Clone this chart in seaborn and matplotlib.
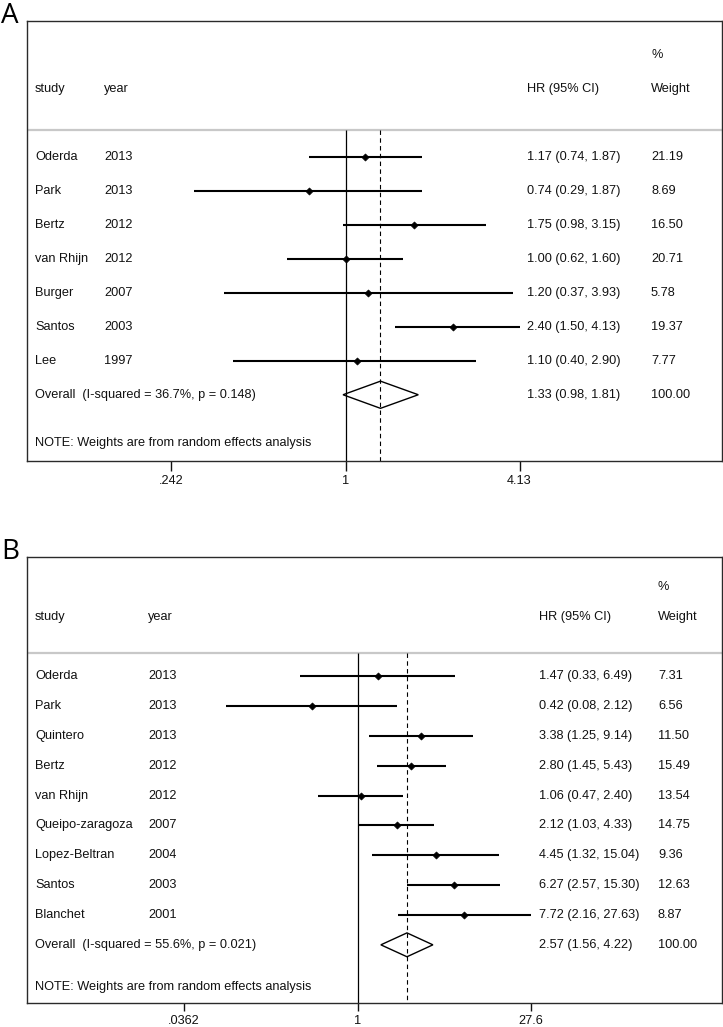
import numpy as np
import pandas as pd
import matplotlib
matplotlib.use("Agg")
import matplotlib.pyplot as plt
import seaborn as sns
from matplotlib.patches import Polygon
from matplotlib.transforms import blended_transform_factory
from matplotlib.ticker import NullLocator, FixedLocator, FixedFormatter

# ---------------- data: panel A ----------------
a_study = ["Oderda", "Park", "Bertz", "van Rhijn", "Burger", "Santos", "Lee"]
a_year = ["2013", "2013", "2012", "2012", "2007", "2003", "1997"]
a_hr = [1.17, 0.74, 1.75, 1.00, 1.20, 2.40, 1.10]
a_lo = [0.74, 0.29, 0.98, 0.62, 0.37, 1.50, 0.40]
a_hi = [1.87, 1.87, 3.15, 1.60, 3.93, 4.13, 2.90]
a_wt = [21.19, 8.69, 16.50, 20.71, 5.78, 19.37, 7.77]
a_overall = [1.33, 0.98, 1.81]
a_i2 = "36.7%"
a_p = "0.148"
a_ticks = [0.242, 1, 4.13]
a_ticklabels = [".242", "1", "4.13"]

# ---------------- data: panel B ----------------
b_study = ["Oderda", "Park", "Quintero", "Bertz", "van Rhijn", "Queipo-zaragoza",
           "Lopez-Beltran", "Santos", "Blanchet"]
b_year = ["2013", "2013", "2013", "2012", "2012", "2007", "2004", "2003", "2001"]
b_hr = [1.47, 0.42, 3.38, 2.80, 1.06, 2.12, 4.45, 6.27, 7.72]
b_lo = [0.33, 0.08, 1.25, 1.45, 0.47, 1.03, 1.32, 2.57, 2.16]
b_hi = [6.49, 2.12, 9.14, 5.43, 2.40, 4.33, 15.04, 15.30, 27.63]
b_wt = [7.31, 6.56, 11.50, 15.49, 13.54, 14.75, 9.36, 12.63, 8.87]
b_overall = [2.57, 1.56, 4.22]
b_i2 = "55.6%"
b_p = "0.021"
b_ticks = [0.0362, 1, 27.6]
b_ticklabels = [".0362", "1", "27.6"]

sns.set_theme(style="white")
plt.rcParams['font.family'] = ['Liberation Sans', 'DejaVu Sans']

W, H = 723, 1027
fig = plt.figure(figsize=(W / 100, H / 100), dpi=100)
FS = 9.2
BOX_L, BOX_R = 27, 722


def panel(letter, letter_base, top_px, bottom_px, x1_px, px_per_ln, year_px, hr_px, wt_px,
          tick_len, tick_pad,
          study, year, hr, lo, hi, wt, overall, i2, p, ticks, ticklabels):
    n = len(study)
    y_top, y_bot = -4.0, n + 1.95
    ax = fig.add_axes([BOX_L / W, 1 - bottom_px / H, (BOX_R - BOX_L) / W,
                       (bottom_px - top_px) / H])
    ax.set_xscale('log')
    ax.set_xlim(np.exp((BOX_L - x1_px) / px_per_ln), np.exp((BOX_R - x1_px) / px_per_ln))
    ax.set_ylim(y_bot, y_top)

    df = pd.DataFrame({"study": study, "year": year, "hr": hr, "lo": lo, "hi": hi,
                       "wt": wt, "row": np.arange(n)})

    sep = -0.78
    ax.axhline(sep, color="#c8c8c8", lw=1.6, zorder=1)
    ax.vlines(1, sep, y_bot, color="black", lw=0.9, zorder=2)
    ax.vlines(overall[0], sep, y_bot, color="black", lw=0.8,
              linestyles=(0, (4, 3)), zorder=2)

    ax.hlines(df["row"], df["lo"], df["hi"], color="black", lw=1.5, zorder=3)
    sns.scatterplot(data=df, x="hr", y="row", marker="D", s=13, color="black",
                    edgecolor="black", linewidth=0.5, ax=ax, legend=False, zorder=4)

    ov, ol, oh = overall
    dia = Polygon([(ol, n), (ov, n - 0.4), (oh, n), (ov, n + 0.4)], closed=True,
                  fill=False, edgecolor="black", lw=1.0, zorder=4)
    ax.add_patch(dia)

    tr = blended_transform_factory(ax.transAxes, ax.transData)

    def fx(px):
        return (px - BOX_L) / (BOX_R - BOX_L)

    kw = dict(transform=tr, fontsize=FS, va="center", ha="left", color="#111111")
    ax.text(fx(wt_px), -3, "%", **kw)
    ax.text(fx(35), -2, "study", **kw)
    ax.text(fx(year_px), -2, "year", **kw)
    ax.text(fx(hr_px), -2, "HR (95% CI)", **kw)
    ax.text(fx(wt_px), -2, "Weight", **kw)
    for _, r in df.iterrows():
        ax.text(fx(35), r["row"], r["study"], **kw)
        ax.text(fx(year_px), r["row"], r["year"], **kw)
        ax.text(fx(hr_px), r["row"], f"{r['hr']:.2f} ({r['lo']:.2f}, {r['hi']:.2f})", **kw)
        ax.text(fx(wt_px), r["row"], f"{r['wt']:.2f}", **kw)
    ax.text(fx(35), n, f"Overall  (I-squared = {i2}, p = {p})", **kw)
    ax.text(fx(hr_px), n, f"{ov:.2f} ({ol:.2f}, {oh:.2f})", **kw)
    ax.text(fx(wt_px), n, "100.00", **kw)
    ax.text(fx(35), n + 1.43, "NOTE: Weights are from random effects analysis", **kw)

    ax.xaxis.set_major_locator(FixedLocator(ticks))
    ax.xaxis.set_major_formatter(FixedFormatter(ticklabels))
    ax.xaxis.set_minor_locator(NullLocator())
    ax.set_yticks([])
    ax.tick_params(axis="x", bottom=True, direction="out", length=tick_len, width=1.0,
                   pad=tick_pad, labelsize=FS, colors="#111111")
    ax.set_xlabel("")
    ax.set_ylabel("")
    for s in ax.spines.values():
        s.set_visible(True)
        s.set_color("#2a2a2a")
        s.set_linewidth(1.0)

    fig.text(1 / W, 1 - letter_base / H, letter, fontsize=20, va="baseline", ha="left",
             family=["Open Sans", "DejaVu Sans"], color="black")


panel("A", 23, 21, 461, 345.5, 122.7, 104, 527, 651, 7, 3.0,
      a_study, a_year, a_hr, a_lo, a_hi, a_wt, a_overall, a_i2, a_p,
      a_ticks, a_ticklabels)
panel("B", 559, 557, 1003, 357.6, 52.3, 148, 539, 658, 6, 2.5,
      b_study, b_year, b_hr, b_lo, b_hi, b_wt, b_overall, b_i2, b_p,
      b_ticks, b_ticklabels)

fig.savefig("out.png", dpi=100, facecolor="white")
